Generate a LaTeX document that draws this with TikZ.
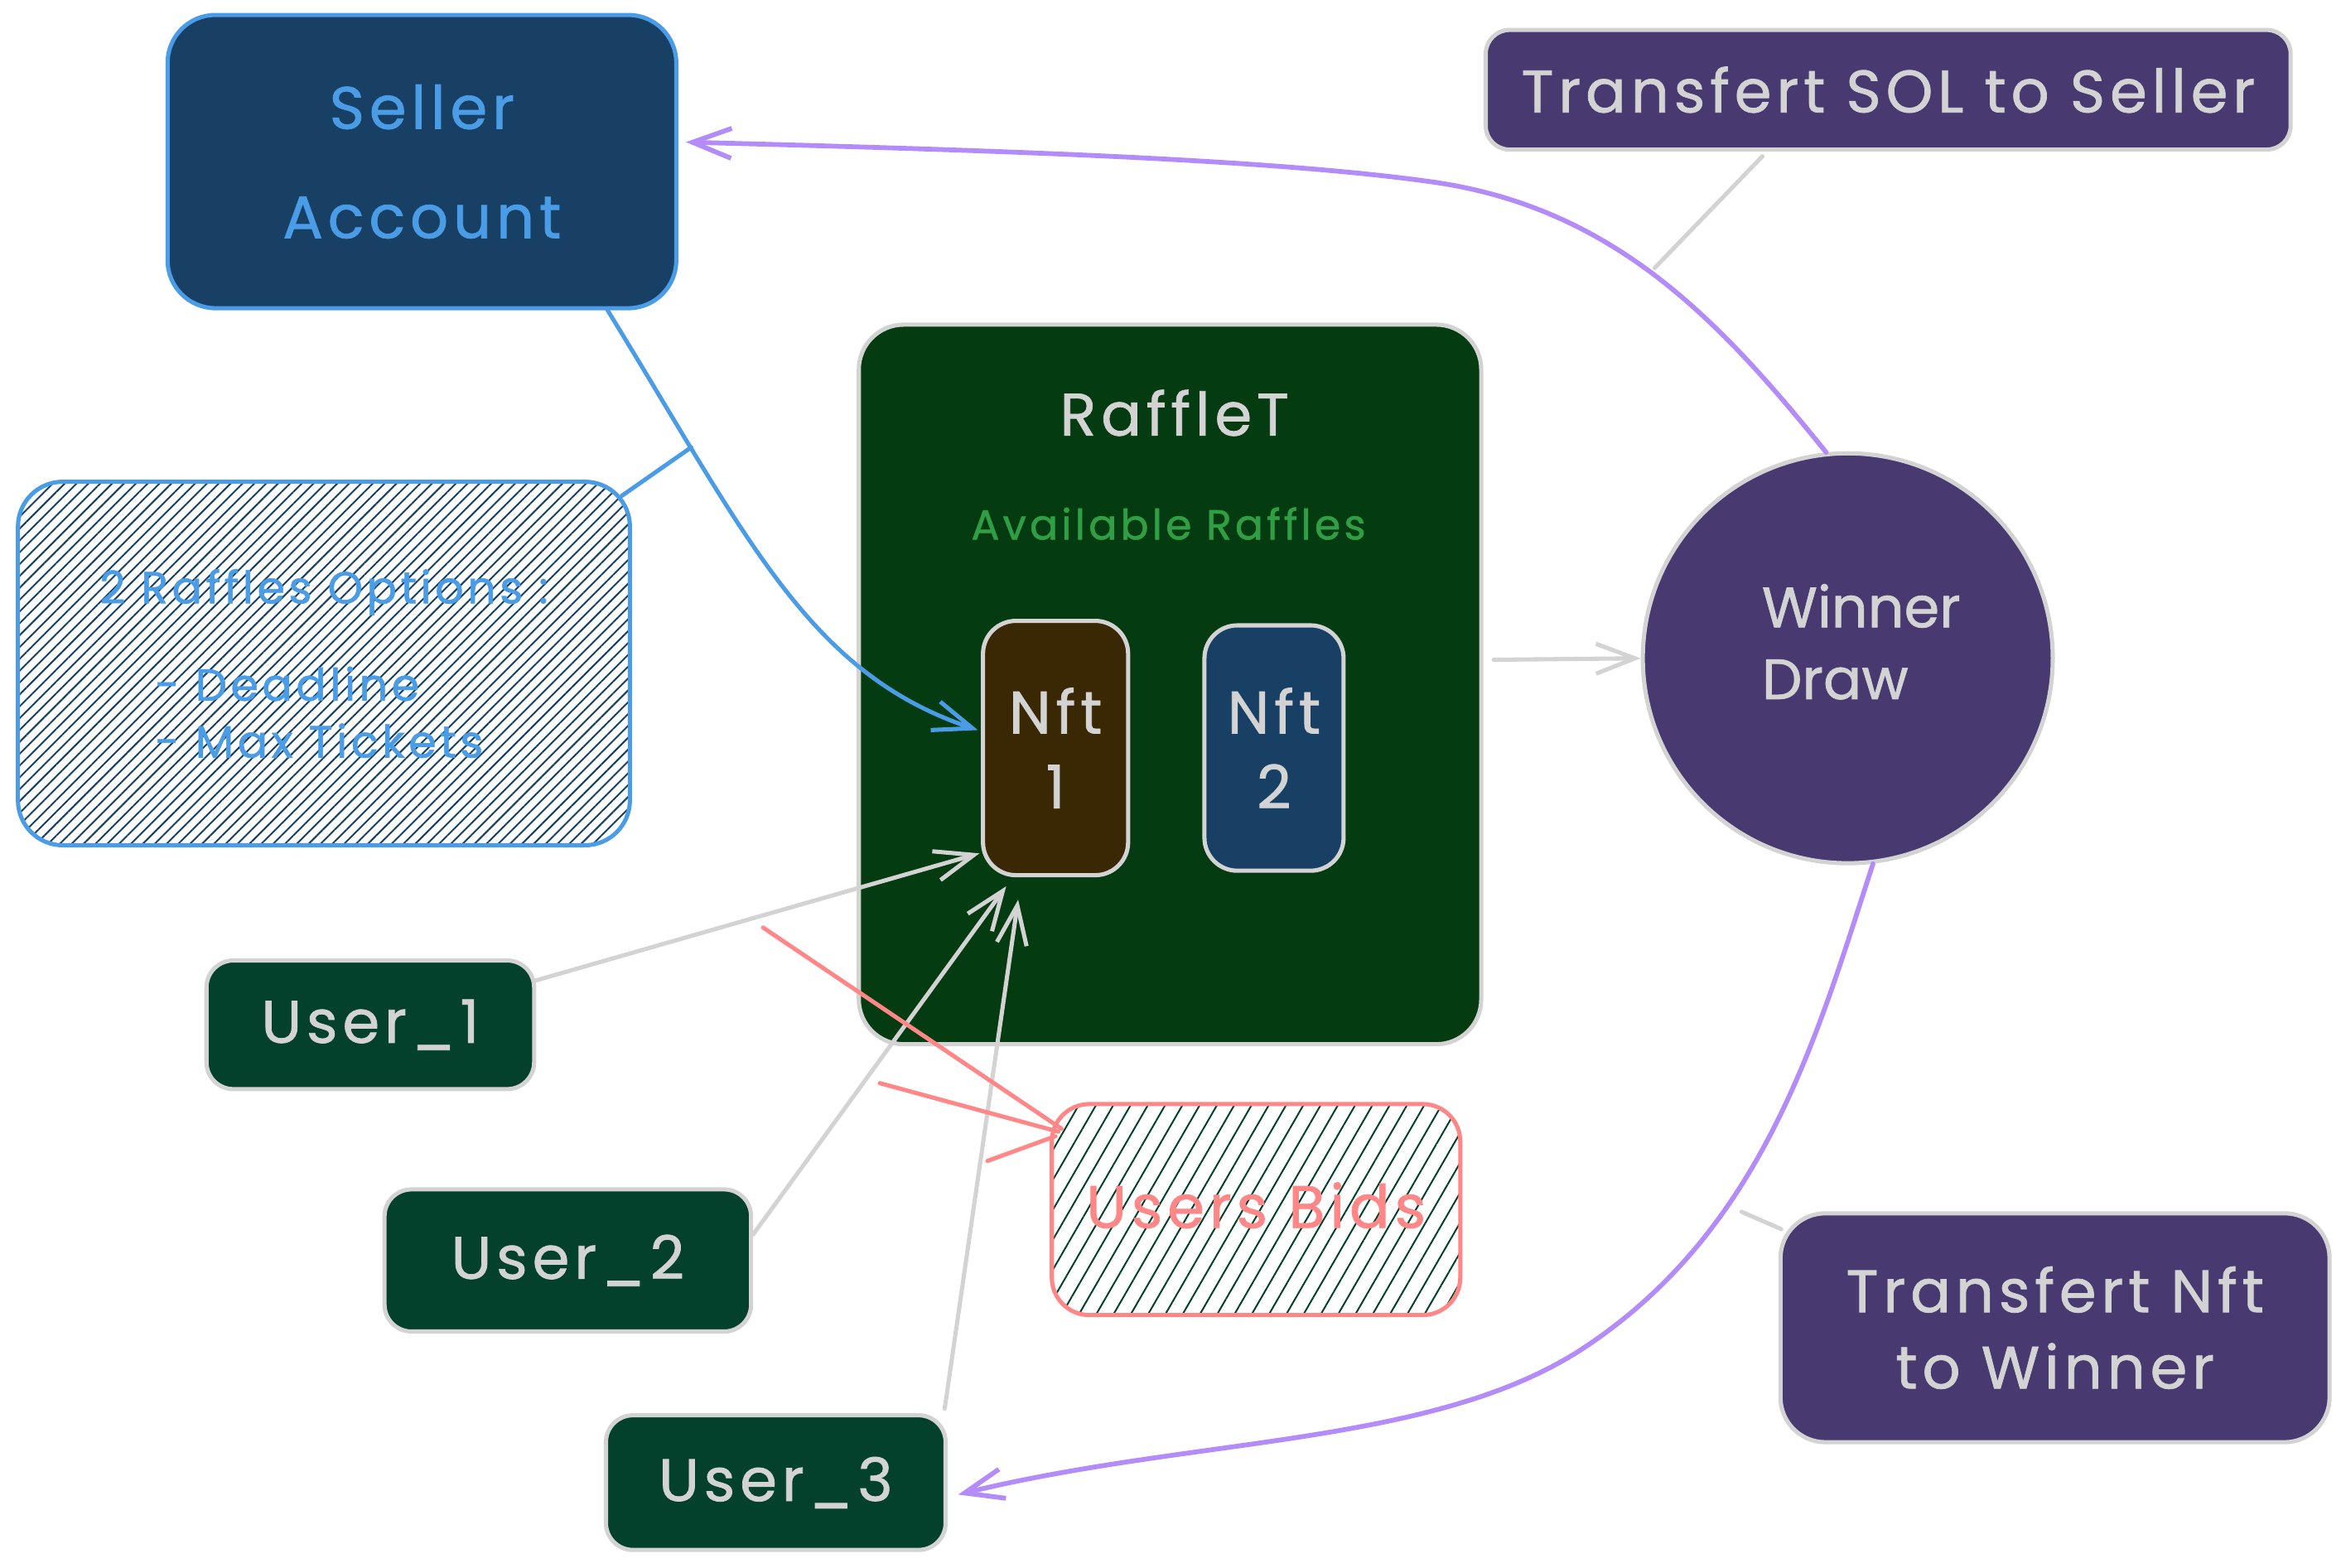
\documentclass[tikz,border=0pt]{standalone}
\usepackage{fontspec}
\setmainfont{Poppins}[LetterSpace=8,FakeBold=1]
\newfontfamily\plainpop{Poppins}[FakeBold=1]
\usetikzlibrary{arrows.meta,calc,patterns.meta}
\definecolor{sblue}{HTML}{4A9CE6}
\definecolor{navyfill}{HTML}{174064}
\definecolor{purplefill}{HTML}{483A70}
\definecolor{sgray}{HTML}{D3D3D3}
\definecolor{rafflefill}{HTML}{053B10}
\definecolor{brownfill}{HTML}{3A2804}
\definecolor{userfill}{HTML}{03412C}
\definecolor{availgreen}{HTML}{2F9E44}
\definecolor{arrowpurple}{HTML}{B48CFA}
\definecolor{sred}{HTML}{FF8787}
\tikzset{
  box/.style={draw=sgray, line width=2.8pt, inner sep=0pt, text=sgray, align=center,
    font=\fontsize{40}{50}\selectfont},
  bigtxt/.style={text=sgray, inner sep=0pt, font=\fontsize{40}{48}\selectfont},
  conn/.style={line width=2.8pt, line cap=round, line join=round},
  tipv/.style={-{Straight Barb[length=26pt,width=20pt]}},
  bluearrow/.style={conn, draw=sblue, tipv},
  blueline/.style={conn, draw=sblue},
  purplearrow/.style={conn, draw=arrowpurple, line width=3.2pt, tipv},
  grayarrow/.style={conn, draw=sgray, tipv},
  grayline/.style={conn, draw=sgray},
  redline/.style={conn, draw=sred},
}
\begin{document}
\begin{tikzpicture}[x=1pt,y=-1pt]
\fill[white] (0,0) rectangle (1568,1047.55);
\useasboundingbox (0,0) rectangle (1568,1047.55);

% Seller account
\node[box, draw=sblue, fill=navyfill, text=sblue, minimum width=340pt, minimum height=196pt,
  rounded corners=32pt, font=\fontsize{40}{73}\selectfont] (seller) at (282,108) {Seller\\Account};

% Transfert SOL
\node[box, fill=purplefill, minimum width=538pt, minimum height=80pt, rounded corners=16pt]
  (tsol) at (1262,60) {Transfert SOL to Seller};

% RaffleT container
\node[box, fill=rafflefill, minimum width=416pt, minimum height=481pt, rounded corners=30pt]
  (raffle) at (782,457.5) {};
\node[bigtxt] (raffletitle) at (785,276) {RaffleT};
\node[text=availgreen, inner sep=0pt, font=\fontsize{28}{34}\selectfont] (availtxt) at (781,350) {Available Raffles};

% NFTs
\node[box, fill=brownfill, minimum width=97pt, minimum height=170pt, rounded corners=22pt]
  (nft1) at (705.5,500) {Nft\\1};
\node[box, fill=navyfill, minimum width=93pt, minimum height=164pt, rounded corners=22pt]
  (nft2) at (851.5,500) {Nft\\2};

% Winner draw
\node[circle, draw=sgray, line width=2.8pt, fill=purplefill, minimum size=274pt, inner sep=0pt]
  (winner) at (1235,440) {};
\node[text=sgray, inner sep=0pt, align=left, font=\plainpop\fontsize{38}{48}\selectfont]
  (winnertxt) at (1244,429) {Winner\\Draw};

% Raffle options (hatched)
\node[draw=sblue, line width=2.8pt, rounded corners=30pt, minimum width=409pt, minimum height=243pt,
  pattern={Lines[angle=45,distance=5.6pt,line width=1.1pt]}, pattern color=navyfill,
  text=sblue, align=left, inner sep=0pt, font=\fontsize{30}{38}\selectfont]
  (opts) at (216.5,443.5) {2 Raffles Options :\\[27pt]\hspace*{37pt}- Deadline\\\hspace*{37pt}- Max Tickets};

% Users
\node[box, fill=userfill, minimum width=219pt, minimum height=86pt, rounded corners=18pt]
  (user1) at (247.5,685) {User\_1};
\node[box, fill=userfill, minimum width=245pt, minimum height=95pt, rounded corners=18pt]
  (user2) at (379.5,842.5) {User\_2};
\node[box, fill=userfill, minimum width=227pt, minimum height=90pt, rounded corners=18pt]
  (user3) at (518.5,991) {User\_3};

% Users bids (hatched)
\node[draw=sred, line width=2.8pt, rounded corners=25pt, minimum width=273pt, minimum height=141pt,
  pattern={Lines[angle=60,distance=10pt,line width=1.1pt]}, pattern color=userfill,
  text=sred, inner sep=0pt, font=\fontsize{40}{48}\selectfont]
  (bids) at (839.5,808.5) {\raisebox{6pt}{Users Bids}};

% Transfert NFT
\node[box, fill=purplefill, minimum width=367pt, minimum height=153pt, rounded corners=30pt,
  font=\fontsize{40}{51}\selectfont] (tnft) at (1373.5,887.5) {Transfert Nft\\to Winner};

% ---- connectors ----
\draw[bluearrow] ($(seller.south west)!0.862!(seller.south east)$)
  .. controls (500,360) and (540,450) .. ($(nft1.west)+(-2,-12)$);
\coordinate (optsjoin) at (462,299);
\draw[blueline] ($(opts.north east)+(-6,10)$) -- (optsjoin);

\draw[purplearrow] (winner.96) .. controls (1150,215) and (1080,140) .. (960,122)
  .. controls (850,106) and (650,100) .. ($(seller.east)+(5,-13)$);
\coordinate (soljoin) at (1106,179);
\draw[grayline] ($(tsol.south)+(-84,3)$) -- (soljoin);

\draw[grayarrow] ($(raffle.east |- winner.west)+(7,1)$) -- (winner.west);

\draw[purplearrow] (winner.-83) .. controls (1215,690) and (1180,820) .. (1060,900)
  .. controls (960,967) and (800,960) .. ($(user3.east)+(7,8)$);
\coordinate (tnftjoin) at (1164,810);
\draw[grayline] ($(tnft.north west)+(2,12)$) -- (tnftjoin);

\draw[grayarrow] (user1.15) -- ($(nft1.south west)+(-1,-16)$);
\draw[grayarrow] (user2.8) -- ($(nft1.south)+(-33,6)$);
\draw[grayarrow] ($(user3.north east)+(-2,-3)$) -- ($(nft1.south)+(-25,15)$);

\coordinate (bidjoinA) at (510,620);
\coordinate (bidjoinB) at (588,724);
\coordinate (bidjoinC) at (660,776);
\draw[redline] ($(bids.north west)+(7,17)$) -- (bidjoinA);
\draw[redline] ($(bids.north west)+(5,19)$) -- (bidjoinB);
\draw[redline] ($(bids.north west)+(3,22)$) -- (bidjoinC);
\end{tikzpicture}
\end{document}
